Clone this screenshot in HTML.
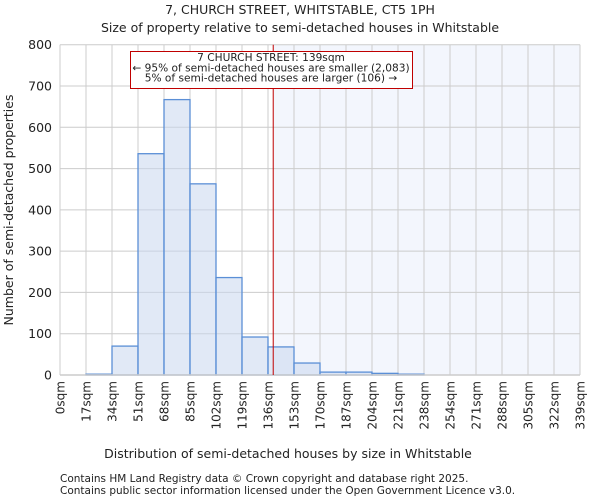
<!DOCTYPE html>
<html><head><meta charset="utf-8"><style>
body{margin:0;background:#fff;font-family:"DejaVu Sans","Liberation Sans",sans-serif}
svg text{font-family:"DejaVu Sans","Liberation Sans",sans-serif;fill:#222}
</style></head><body>
<svg width="600" height="500" id="c">
<text x="300" y="14" text-anchor="middle" font-size="12.5">7, CHURCH STREET, WHITSTABLE, CT5 1PH</text>
<text x="300" y="32" text-anchor="middle" font-size="12.5">Size of property relative to semi-detached houses in Whitstable</text>
<g id="plot"></g>
<text x="288" y="458" text-anchor="middle" font-size="12.5">Distribution of semi-detached houses by size in Whitstable</text>
<text transform="translate(13,210) rotate(-90)" text-anchor="middle" font-size="12.5">Number of semi-detached properties</text>
<text x="60" y="482" font-size="10.5">Contains HM Land Registry data © Crown copyright and database right 2025.</text>
<text x="60" y="494" font-size="10.5">Contains public sector information licensed under the Open Government Licence v3.0.</text>
</svg>
<script>
const binLabels=["0sqm","17sqm","34sqm","51sqm","68sqm","85sqm","102sqm","119sqm","136sqm","153sqm","170sqm","187sqm","204sqm","221sqm","238sqm","254sqm","271sqm","288sqm","305sqm","322sqm","339sqm"];
const counts=[0,2,70,536,667,463,236,92,68,29,7,7,4,2,0,0,0,0,0,0];
const yTicks=[0,100,200,300,400,500,600,700,800];
const subjectSize=139;
const xMax=339;
const NS="http://www.w3.org/2000/svg";
const L=60,R=580,T=44.7,B=375;
const xs=v=>L+v/xMax*(R-L);
const xb=i=>L+i*(R-L)/counts.length;
const ys=v=>B-v/800*(B-T);
const g=document.getElementById('plot');
function mk(t,a,p){const e=document.createElementNS(NS,t);for(const k in a)e.setAttribute(k,a[k]);(p||g).appendChild(e);return e;}
const sx=xs(subjectSize);
let e=mk('rect',{x:sx,y:T,width:R-sx,height:B-T,fill:'#f3f6fd'});


yTicks.forEach(v=>{
 let l=mk('line',{x1:L,x2:R,y1:ys(v),y2:ys(v),stroke:'#ccc'});
 
 
 let t=mk('text',{x:L-8,y:ys(v)+4.5,'text-anchor':'end','font-size':'12.5'});t.textContent=v;
 
 
});
binLabels.forEach((s,i)=>{
 let l=mk('line',{x1:xb(i),x2:xb(i),y1:T,y2:B,stroke:'#ccc'});
 
 
 let t=mk('text',{transform:`translate(${xb(i)+4.5},381) rotate(-90)`,'text-anchor':'end','font-size':'12'});t.textContent=s;
 
 
});
counts.forEach((c,i)=>{
 if(c<=0)return;
 let r=mk('rect',{x:xb(i),y:ys(c),width:xb(i+1)-xb(i),height:B-ys(c),fill:'rgba(200,215,238,0.55)',stroke:'#5b8fd6','stroke-width':1.3});
 
 
});
let ax=mk('line',{x1:L,x2:R,y1:B,y2:B,stroke:'#ccc','stroke-width':1.5});


let ml=mk('line',{x1:sx,x2:sx,y1:T,y2:B,stroke:'#c00000','stroke-width':1});


let bx=mk('rect',{x:130.5,y:51.5,width:282,height:37,fill:'#fff',stroke:'#c00000'});


["7 CHURCH STREET: 139sqm","← 95% of semi-detached houses are smaller (2,083)","5% of semi-detached houses are larger (106) →"].forEach((s,i)=>{
 let t=mk('text',{x:271,y:61+i*10.3,'text-anchor':'middle','font-size':'10.6'});t.textContent=s;
 
 
});
</script>
</body></html>
